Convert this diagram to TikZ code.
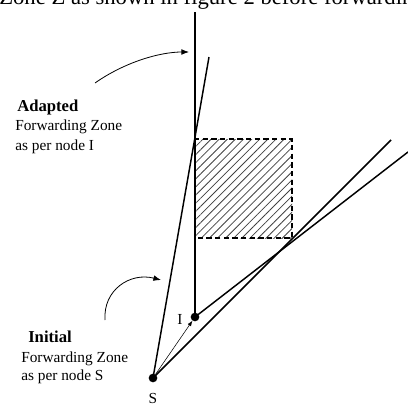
\documentclass[tikz,border=0pt]{standalone}
\usepackage{fontspec}
\setmainfont{Liberation Serif}
\usetikzlibrary{arrows.meta,patterns.meta}

\begin{document}
\begin{tikzpicture}[x=0.75pt,y=-0.75pt,>=Latex,font=\fontsize{11.5}{13.5}\selectfont,
  dot/.style={circle,fill,inner sep=0pt,minimum size=6.5pt},
  zoneline/.style={line width=1.1pt},
  caption/.style={anchor=base west,inner sep=0pt},
  heading/.style={caption,font=\fontsize{12.5}{14}\selectfont\bfseries}]
\clip (0,0) rectangle (408,407);
\node[caption,font=\fontsize{17}{20}\selectfont] (textline) at (-1,5) {Zone Z as shown in figure 2 before forwarding};
\coordinate (BoxTL) at (194,139);
\coordinate (BoxTR) at (292,139);
\coordinate (BoxBR) at (292,238);
\coordinate (BoxBL) at (194,238);
\fill[pattern={Lines[angle=45,distance=4.3pt,line width=0.6pt]},pattern color=black!75] (BoxTL) rectangle (BoxBR);
\draw[dashed,line width=0.8pt,dash pattern=on 4pt off 2.5pt] (BoxTL) -- (BoxTR) -- (BoxBR) -- (BoxBL);
\node[dot] (S) at (153,378) {};
\node[dot] (I) at (195,317) {};
\coordinate (Vtop) at (194,12);
\coordinate (SLeft) at (209,57);
\coordinate (SRight) at (391,140);
\coordinate (IRight) at (408,152);
\draw[zoneline] (I.center) -- (I.center |- Vtop);
\draw[zoneline] (S.center) -- (SLeft);
\draw[zoneline] (S.center) -- (SRight);
\draw[zoneline] (I.center) -- (IRight);
\draw[-{Latex[length=4pt,width=3pt]},line width=0.4pt] (S) -- (I);
\node (Slabel) at (153,398) {S};
\node (Ilabel) at (180,319) {I};
% curved pointers from the captions to the two zone borders
\coordinate (adaptFrom) at (95,83);
\coordinate (adaptTo) at (189,52);
\coordinate (initFrom) at (105,320);
\coordinate (initTo) at (161,280);
\draw[->,line width=0.6pt] (adaptFrom) .. controls (125,62) and (160,52) .. (adaptTo);
\draw[->,line width=0.6pt] (initFrom) .. controls (103,290) and (130,272) .. (initTo);
\node[heading] (adapted) at (17,112) {Adapted};
\node[caption] (adaptedA) at (15,130) {Forwarding Zone};
\node[caption] (adaptedB) at (15,150) {as per node I};
\node[heading] (initial) at (28,342) {Initial};
\node[caption] (initialA) at (21,362) {Forwarding Zone};
\node[caption] (initialB) at (21,380) {as per node S};
\end{tikzpicture}
\end{document}
